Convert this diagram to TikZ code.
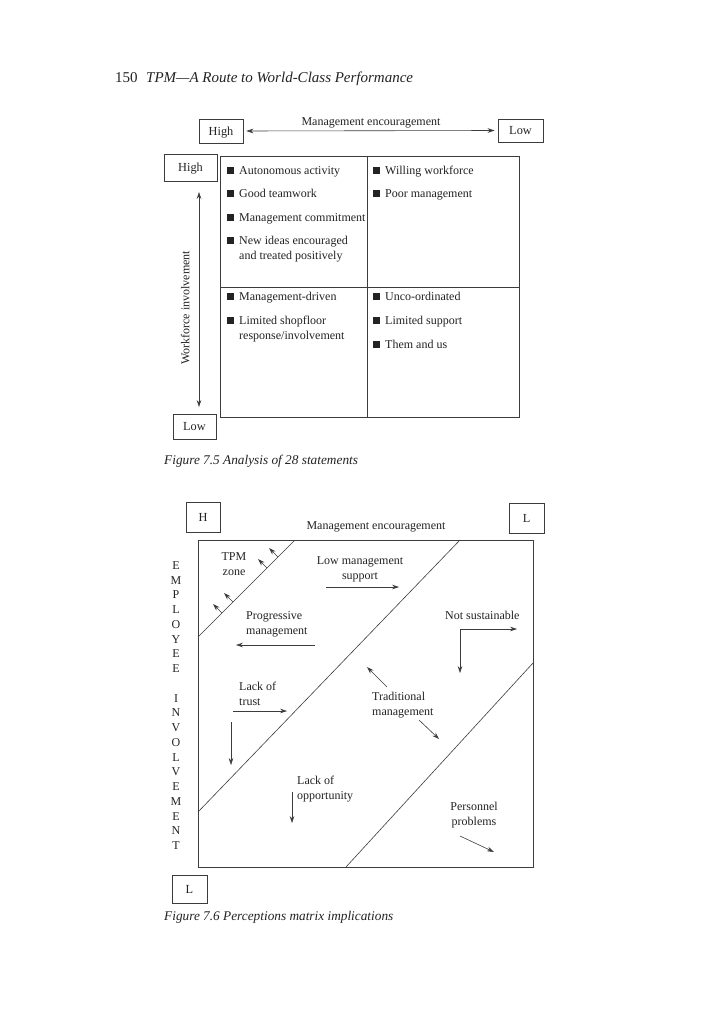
\documentclass[tikz,border=0pt]{standalone}
\usepackage{fontspec}
\setmainfont{Liberation Serif}
\usepackage{tikz}
\usetikzlibrary{positioning, arrows.meta, calc}
\definecolor{inkcolor}{RGB}{35,35,35}
\definecolor{linecolor}{RGB}{60,60,60}
\newcommand{\sqbul}{\makebox[12pt][l]{\rule{7pt}{7pt}}}
\newcommand{\cellitem}[1]{\sqbul\begin{tabular}[t]{@{}l@{}}#1\end{tabular}}

\begin{document}
\begin{tikzpicture}[x=1pt, y=-1pt,
    lvl/.style={draw=linecolor, line width=0.7pt, inner sep=0pt, text depth=0pt, text=inkcolor, font=\fontsize{12.3}{14}\selectfont},
    txt/.style={inner sep=0pt, text=inkcolor, font=\fontsize{12}{15}\selectfont},
    arrow/.style={-{Stealth[length=7pt, width=4.6pt]}, line width=0.6pt, linecolor},
    darrow/.style={{Stealth[length=7pt, width=4.6pt]}-{Stealth[length=7pt, width=4.6pt]}, line width=0.6pt, linecolor},
    frame/.style={draw=linecolor, line width=0.7pt}
]
    \fill[white] (0,0) rectangle (720,1024);
    \useasboundingbox (0,0) rectangle (720,1024);

    % === EN-TETE ===
    \node[inner sep=0pt, anchor=mid west, text=inkcolor, font=\fontsize{15}{18}\selectfont] (pageno) at (115,80) {150};
    \node[inner sep=0pt, anchor=mid west, text=inkcolor, font=\fontsize{15}{18}\selectfont\itshape] (runhead) at (146,80) {TPM—A Route to World-Class Performance};

    % === FIGURE 7.5 : axes ===
    \node[lvl, minimum width=44pt, minimum height=24pt] (high1) at (221,131) {High};
    \node[lvl, minimum width=45pt, minimum height=23pt] (low1) at (520.5,130.5) {Low};
    \draw[darrow, shorten <=3pt, shorten >=3pt] (high1.east) -- (low1.west);
    \node[txt, anchor=mid] (enc1) at (371,123) {Management encouragement};

    \node[lvl, minimum width=53pt, minimum height=27pt] (high2) at (190.5,167.5) {High};
    \node[lvl, minimum width=43pt, minimum height=25pt] (low2) at (194.5,426.5) {Low};
    \coordinate (wfTop) at (199,192);
    \coordinate (wfBot) at (199,407);
    \draw[darrow] (wfTop) -- (wfBot);
    \node[txt, rotate=90, anchor=mid] (wf) at (187,308) {Workforce involvement};

    % === FIGURE 7.5 : grille ===
    \draw[frame] (220,156) rectangle (519,417);
    \draw[frame] (367,156) -- (367,417);
    \draw[frame] (220,287) -- (519,287);

    % haut gauche
    \node[txt, anchor=mid west] (tl1) at (227,172) {\cellitem{Autonomous activity}};
    \node[txt, anchor=mid west] (tl2) at (227,195) {\cellitem{Good teamwork}};
    \node[txt, anchor=mid west] (tl3) at (227,219) {\cellitem{Management commitment}};
    \node[txt, anchor=mid west] (tl4) at (227,242) {\cellitem{New ideas encouraged\\and treated positively}};
    % haut droite
    \node[txt, anchor=mid west] (tr1) at (373,172) {\cellitem{Willing workforce}};
    \node[txt, anchor=mid west] (tr2) at (373,195) {\cellitem{Poor management}};
    % bas gauche
    \node[txt, anchor=mid west] (bl1) at (227,298) {\cellitem{Management-driven}};
    \node[txt, anchor=mid west] (bl2) at (227,322) {\cellitem{Limited shopfloor\\response/involvement}};
    % bas droite
    \node[txt, anchor=mid west] (br1) at (373,298) {\cellitem{Unco-ordinated}};
    \node[txt, anchor=mid west] (br2) at (373,322) {\cellitem{Limited support}};
    \node[txt, anchor=mid west] (br3) at (373,346) {\cellitem{Them and us}};

    \node[inner sep=0pt, anchor=mid west, text=inkcolor, font=\fontsize{13.3}{16}\selectfont\itshape] (cap1) at (164,462) {Figure 7.5 Analysis of 28 statements};

    % === FIGURE 7.6 : axes ===
    \node[lvl, minimum width=34pt, minimum height=30pt] (high3) at (203,517) {H};
    \node[lvl, minimum width=35pt, minimum height=30pt] (low3) at (526.5,518) {L};
    \node[lvl, minimum width=35pt, minimum height=28pt] (low4) at (189.5,889) {L};
    \node[txt, anchor=mid] (enc2) at (376,527) {Management encouragement};
    \foreach \ch [count=\i] in {E,M,P,L,O,Y,E,E,{},I,N,V,O,L,V,E,M,E,N,T}
        \node[txt, anchor=mid] (emp\i) at (176,{567+(\i-1)*14.75}) {\ch};

    % === FIGURE 7.6 : matrice ===
    \draw[frame] (198,540) rectangle (533,867);
    \draw[linecolor, line width=0.6pt] (198,637) -- (295,540);
    \draw[linecolor, line width=0.6pt] (198,812) -- (460,540);
    \draw[linecolor, line width=0.6pt] (346,867) -- (533,663);
    \foreach \bx in {222,233,267,278}
        \draw[arrow] (\bx,{835-\bx}) -- ++(-9,-9);

    \node[txt, align=center] (tpm) at (234,564.5) {TPM\\zone};

    \node[txt, align=center] (lms) at (360,569) {Low management\\support};
    \coordinate (lmsA) at (326,587);
    \coordinate (lmsB) at (399,587);
    \draw[arrow] (lmsA) -- (lmsB);

    \node[txt, align=left, anchor=west] (prog) at (246,624.5) {Progressive\\management};
    \coordinate (progA) at (315,645);
    \coordinate (progB) at (236,645);
    \draw[arrow] (progA) -- (progB);

    \node[txt, anchor=mid west] (notsus) at (445,617) {Not sustainable};
    \coordinate (nsC) at (460,629);
    \coordinate (nsR) at (517,629);
    \coordinate (nsD) at (460,673);
    \draw[arrow] (nsC) -- (nsR);
    \draw[arrow] (nsC) -- (nsD);

    \node[txt, align=left, anchor=west] (trust) at (239,694) {Lack of\\trust};
    \coordinate (trA) at (233,711);
    \coordinate (trB) at (287,711);
    \draw[arrow] (trA) -- (trB);
    \coordinate (vdA) at (231,722);
    \coordinate (vdB) at (231,765);
    \draw[arrow, line width=0.4pt] (vdA) -- (vdB);

    \node[txt, align=left, anchor=west] (trad) at (372,705) {Traditional\\management};
    \coordinate (tdA) at (387,687);
    \coordinate (tdB) at (367,667);
    \draw[arrow] (tdA) -- (tdB);
    \coordinate (tdC) at (419,720);
    \coordinate (tdD) at (439,739);
    \draw[arrow] (tdC) -- (tdD);

    \node[txt, align=left, anchor=west] (opp) at (297,789.5) {Lack of\\opportunity};
    \coordinate (opA) at (292,792);
    \coordinate (opB) at (292,823);
    \draw[arrow] (opA) -- (opB);

    \node[txt, align=center] (pers) at (474,815) {Personnel\\problems};
    \coordinate (peA) at (460,836);
    \coordinate (peB) at (494,852);
    \draw[arrow] (peA) -- (peB);

    \node[inner sep=0pt, anchor=mid west, text=inkcolor, font=\fontsize{13.3}{16}\selectfont\itshape] (cap2) at (164,918) {Figure 7.6 Perceptions matrix implications};
\end{tikzpicture}
\end{document}
